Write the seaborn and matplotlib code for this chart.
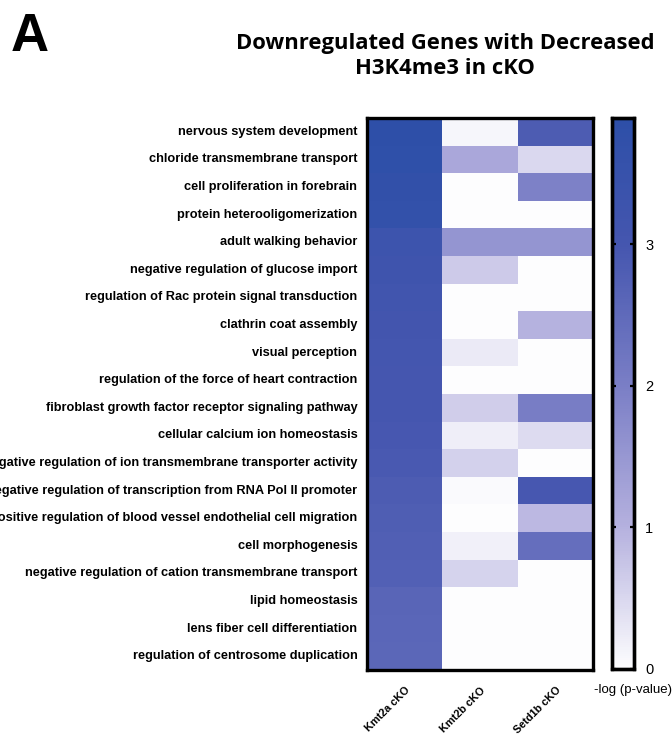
import numpy as np
import pandas as pd
import seaborn as sns
import matplotlib
matplotlib.use("Agg")
import matplotlib.pyplot as plt
from matplotlib.colors import LinearSegmentedColormap

terms = [
    "nervous system development",
    "chloride transmembrane transport",
    "cell proliferation in forebrain",
    "protein heterooligomerization",
    "adult walking behavior",
    "negative regulation of glucose import",
    "regulation of Rac protein signal transduction",
    "clathrin coat assembly",
    "visual perception",
    "regulation of the force of heart contraction",
    "fibroblast growth factor receptor signaling pathway",
    "cellular calcium ion homeostasis",
    "negative regulation of ion transmembrane transporter activity",
    "negative regulation of transcription from RNA Pol II promoter",
    "positive regulation of blood vessel endothelial cell migration",
    "cell morphogenesis",
    "negative regulation of cation transmembrane transport",
    "lipid homeostasis",
    "lens fiber cell differentiation",
    "regulation of centrosome duplication",
]
conditions = ["Kmt2a cKO", "Kmt2b cKO", "Setd1b cKO"]

kmt2a = [3.85, 3.8, 3.72, 3.65, 3.3, 3.2, 3.15, 3.08, 3.05, 3.0,
         2.98, 2.95, 2.93, 2.85, 2.8, 2.78, 2.75, 2.62, 2.6, 2.58]
kmt2b = [0.1, 1.2, 0, 0, 1.55, 0.68, 0, 0, 0.25, 0,
         0.63, 0.2, 0.58, 0.05, 0, 0.18, 0.55, 0, 0, 0]
setd1b = [2.85, 0.5, 1.95, 0, 1.55, 0, 0, 1.0, 0, 0,
          2.05, 0.45, 0, 2.95, 0.9, 2.4, 0, 0, 0, 0]

cbar_ticks = [0, 1, 2, 3]
vmax = 3.89

df = pd.DataFrame({conditions[0]: kmt2a, conditions[1]: kmt2b, conditions[2]: setd1b}, index=terms)

cmap = LinearSegmentedColormap.from_list(
    "bp",
    [(0.0, "#FDFDFE"), (0.26, "#B4B0DE"), (0.51, "#7B7FC6"), (0.77, "#4556AF"), (1.0, "#2D4FA8")],
)

plt.rcParams['font.family'] = ['Liberation Sans', 'DejaVu Sans']
W, H = 672, 738
fig = plt.figure(figsize=(W / 100, H / 100), dpi=100)
ax = fig.add_axes([367 / W, 1 - 670 / H, (593 - 367) / W, (670 - 118) / H])
cax = fig.add_axes([612 / W, 1 - 669 / H, 22 / W, (669 - 118) / H])

sns.heatmap(df, ax=ax, cmap=cmap, vmin=0, vmax=vmax, cbar_ax=cax,
            cbar_kws={"ticks": cbar_ticks})

for s in ax.spines.values():
    s.set_visible(True)
    s.set_linewidth(2.4)
    s.set_color("black")
ax.tick_params(axis="both", length=0)
ax.tick_params(axis="y", pad=7)
ax.set_yticklabels(terms, fontsize=9.2, fontweight="bold", rotation=0)
ax.set_xticklabels(conditions, fontsize=7.8, fontweight="bold", rotation=45,
                   ha="right", rotation_mode="anchor")
ax.tick_params(axis="x", pad=11)
ax.set_xlabel("")
ax.set_ylabel("")

cax.set_frame_on(True)
for s in cax.spines.values():
    s.set_visible(True)
    s.set_linewidth(2.4)
    s.set_color("black")
cax.yaxis.set_ticks_position("both")
cax.tick_params(axis="y", which="both", direction="in", length=3, width=1.6,
                left=True, right=True, labelleft=False, labelright=True,
                labelsize=10.5, pad=8)
cax.set_yticks(cbar_ticks)
cax.set_yticklabels([str(t) for t in cbar_ticks])

fig.text(633 / W, 1 - 690 / H, "-log (p-value)", fontsize=9.5, ha="center", va="center")

fig.text(11 / W, 1 - 37 / H, "A", fontsize=38, fontweight="bold", ha="left", va="center",
         family=["Liberation Sans Narrow", "Liberation Sans"])
fig.text(445 / W, 1 - 56 / H, "Downregulated Genes with Decreased\nH3K4me3 in cKO",
         fontsize=15.8, fontweight="bold", ha="center", va="center", linespacing=1.2,
         family=["Open Sans", "Liberation Sans"])

fig.savefig("out.png", dpi=100)
